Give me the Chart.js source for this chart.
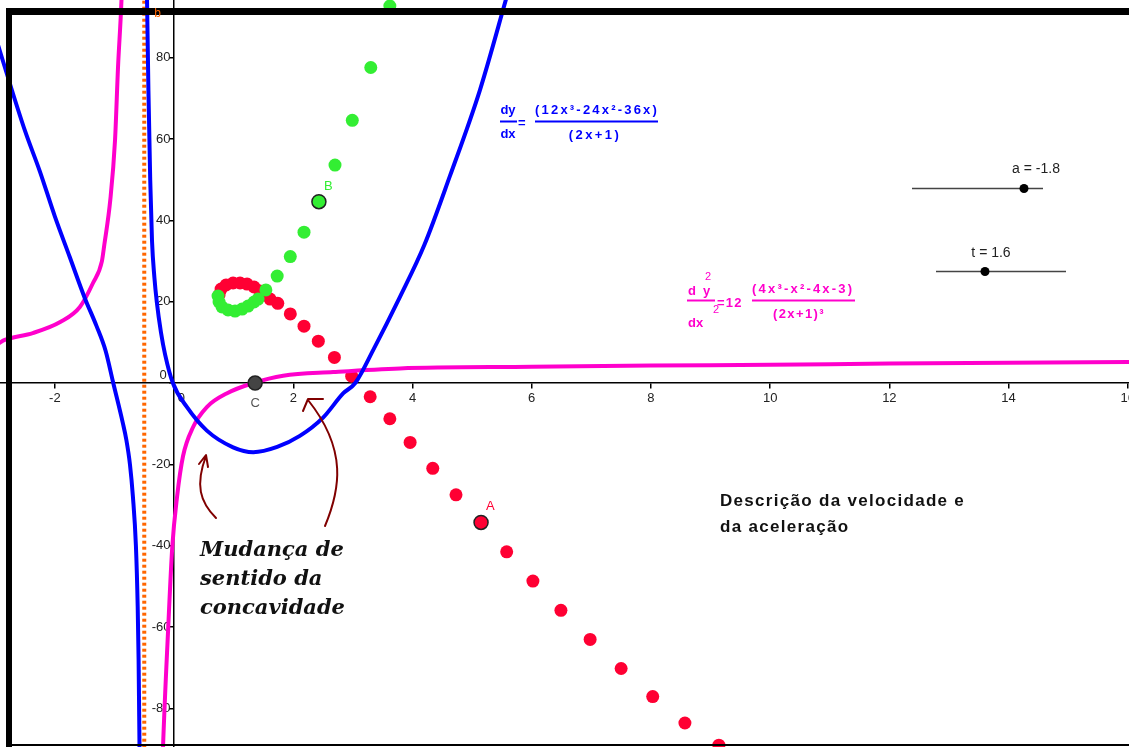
<!DOCTYPE html>
<html>
<head>
<meta charset="utf-8">
<script src="https://cdn.jsdelivr.net/npm/chart.js@4.4.1/dist/chart.umd.min.js"></script>
<style>
  html, body { margin: 0; padding: 0; background: #fff; }
  #wrap { position: absolute; left: 0; top: 0; width: 1129px; height: 747px; }
</style>
</head>
<body>
<div id="wrap"><canvas id="myChart"></canvas></div>
<script>
// view window of the graph
const xMin = -2.92, xMax = 16.02;
const yMin = -89.5, yMax = 94.2;
const xStep = 2, yStep = 20;

// dy/dx curve (blue), both branches of the asymptote
const blueLeftX = [-2.95, -2.72, -2.5, -2.25, -2.0, -1.75, -1.5, -1.3, -1.15, -1.02, -0.86, -0.8, -0.74, -0.69, -0.64, -0.61, -0.595, -0.585, -0.575];
const blueLeftY = [83, 72, 62, 52, 41, 31, 21, 14, 8, 0, -9.8, -14, -20, -28, -40, -55, -68, -82, -96];
const blueRightX = [-0.455, -0.43, -0.4, -0.37, -0.33, -0.29, -0.22, -0.15, -0.02, 0.22, 0.55, 0.99, 1.33, 1.73, 2.11, 2.5, 2.84, 3.04, 3.34, 3.79, 4.2, 4.63, 5.13, 5.6];
const blueRightY = [96, 72, 50, 35, 26, 20, 12.5, 7, 0, -6, -11.7, -15.8, -17, -15.7, -13, -8.5, -2.5, 0, 8.1, 21.2, 34, 51, 72, 96];

// d2y/dx2 curve (magenta)
const pinkLeftX = [-2.95, -2.84, -2.37, -1.91, -1.58, -1.36, -1.21, -1.17, -1.07, -0.99, -0.94, -0.88, -0.86];
const pinkLeftY = [9.7, 10.6, 12.3, 15.0, 18.7, 24.6, 30, 34, 45, 59.8, 77.7, 95, 105];
const pinkRightX = [-0.2, -0.185, -0.1, -0.03, 0.05, 0.15, 0.32, 0.55, 0.89, 1.33, 1.83, 2.67, 3.79, 6, 8, 10, 12, 14, 16.1];
const pinkRightY = [-97, -89.5, -60.8, -40.3, -28, -18, -10.8, -5.9, -2.5, 0, 1.8, 2.7, 3.6, 4.0, 4.3, 4.5, 4.8, 5.0, 5.2];

// vertical asymptote (orange dotted)
const asymX = [-0.5, -0.5];
const asymY = [-100, 100];

// trace of point A (red) and point B (green)
const redX = [0.755, 0.789, 0.872, 0.99, 1.107, 1.225, 1.342, 1.443, 1.527, 1.611, 1.74, 1.95, 2.18, 2.42, 2.69, 2.98, 3.29, 3.62, 3.96, 4.34, 4.73, 5.58, 6.02, 6.49, 6.98, 7.5, 8.03, 8.57, 9.14];
const redY = [21.65, 23.12, 24.11, 24.6, 24.6, 24.35, 23.62, 22.63, 21.65, 20.66, 19.6, 17.0, 14.0, 10.3, 6.3, 1.7, -3.37, -8.78, -14.59, -20.98, -27.48, -41.5, -48.7, -55.9, -63.05, -70.2, -77.1, -83.6, -89.05];
const greenX = [0.738, 0.755, 0.805, 0.906, 1.023, 1.141, 1.242, 1.342, 1.409, 1.54, 1.73, 1.95, 2.18, 2.7, 2.99, 3.3, 3.62];
const greenY = [21.4, 19.93, 18.7, 17.96, 17.71, 18.2, 18.94, 19.93, 20.66, 22.9, 26.3, 31.1, 37.1, 53.6, 64.6, 77.6, 92.7];

// named points
const pointA = [5.15, -34.27];
const pointB = [2.43, 44.6];
const pointC = [1.36, 0];

const BLUE = "#0000ff";
const PINK = "#ff00cc";
const RED = "#ff0033";
const GREEN = "#33ee33";
const ORANGE = "#ff6600";

function toPoints(xs, ys) {
  return xs.map((x, i) => ({ x: x, y: ys[i] }));
}

function curve(xs, ys, color, order) {
  return {
    data: toPoints(xs, ys),
    showLine: true,
    borderColor: color,
    borderWidth: 4,
    pointRadius: 0,
    cubicInterpolationMode: "monotone",
    order: order,
  };
}

function dots(xs, ys, color, order, radius, border) {
  return {
    data: toPoints(xs, ys),
    showLine: false,
    backgroundColor: color,
    borderColor: border || color,
    pointBorderWidth: border ? 1.5 : 0,
    pointRadius: radius,
    order: order,
  };
}

function txt(ctx, s, x, y, font, color, align, spacing) {
  ctx.font = font;
  ctx.fillStyle = color;
  ctx.textAlign = align || "left";
  ctx.textBaseline = "alphabetic";
  ctx.letterSpacing = spacing || "0px";
  ctx.fillText(s, x, y);
  ctx.letterSpacing = "0px";
}

function hline(ctx, x1, x2, y, color, w) {
  ctx.strokeStyle = color;
  ctx.lineWidth = w;
  ctx.beginPath();
  ctx.moveTo(x1, y);
  ctx.lineTo(x2, y);
  ctx.stroke();
}

const decorations = {
  id: "decorations",
  afterDatasetsDraw(chart) {
    const ctx = chart.ctx;
    const sx = chart.scales.x;
    const sy = chart.scales.y;
    ctx.save();

    // labels of the points
    const lab = "13px 'Liberation Sans', Arial, sans-serif";
    txt(ctx, "A", sx.getPixelForValue(pointA[0]) + 5, sy.getPixelForValue(pointA[1]) - 12, lab, RED);
    txt(ctx, "B", sx.getPixelForValue(pointB[0]) + 5, sy.getPixelForValue(pointB[1]) - 12, lab, GREEN);
    txt(ctx, "C", sx.getPixelForValue(pointC[0]), sy.getPixelForValue(pointC[1]) + 24, lab, "#555", "center");

    // dy/dx formula
    const fb = "bold 13px 'Liberation Sans', Arial, sans-serif";
    txt(ctx, "dy", 508, 114, fb, BLUE, "center");
    hline(ctx, 500, 517, 121.5, BLUE, 2);
    txt(ctx, "dx", 508, 138, fb, BLUE, "center");
    txt(ctx, "=", 518, 127, fb, BLUE);
    txt(ctx, "(12x\u00b3-24x\u00b2-36x)", 535, 114, fb, BLUE, "left", "2.2px");
    hline(ctx, 535, 658, 121.5, BLUE, 2);
    txt(ctx, "(2x+1)", 595, 139, fb, BLUE, "center", "2.4px");

    // d2y/dx2 formula
    const fp = "bold 13px 'Liberation Sans', Arial, sans-serif";
    const fs = "11px 'Liberation Sans', Arial, sans-serif";
    txt(ctx, "d", 688, 295, fp, PINK);
    txt(ctx, "2", 705, 280, fs, PINK);
    txt(ctx, "y", 703, 295, fp, PINK);
    hline(ctx, 687, 715, 300.5, PINK, 2);
    txt(ctx, "dx", 688, 327, fp, PINK);
    txt(ctx, "2", 713, 313, fs, PINK);
    txt(ctx, "=12", 717, 307, fp, PINK, "left", "1.2px");
    txt(ctx, "(4x\u00b3-x\u00b2-4x-3)", 752, 293, fp, PINK, "left", "2.2px");
    hline(ctx, 752, 855, 300.5, PINK, 2);
    txt(ctx, "(2x+1)\u00b3", 773, 318, fp, PINK, "left", "1.4px");

    // sliders
    const sf = "14px 'Liberation Sans', Arial, sans-serif";
    txt(ctx, "a = -1.8", 1036, 173, sf, "#222", "center");
    hline(ctx, 912, 1043, 188.5, "#444", 1.5);
    txt(ctx, "t = 1.6", 991, 257, sf, "#222", "center");
    hline(ctx, 936, 1066, 271.5, "#444", 1.5);
    ctx.fillStyle = "#000";
    ctx.beginPath();
    ctx.arc(1024, 188.5, 4.5, 0, Math.PI * 2);
    ctx.fill();
    ctx.beginPath();
    ctx.arc(985, 271.5, 4.5, 0, Math.PI * 2);
    ctx.fill();

    // description text
    const df = "bold 17px 'Liberation Sans', Arial, sans-serif";
    txt(ctx, "Descrição da velocidade e", 720, 506, df, "#111", "left", "1.3px");
    txt(ctx, "da aceleração", 720, 532, df, "#111", "left", "1.3px");

    // handwritten note
    const nf = "italic bold 21px 'DejaVu Serif', serif";
    txt(ctx, "Mudança de", 200, 556, nf, "#111");
    txt(ctx, "sentido da", 200, 585, nf, "#111");
    txt(ctx, "concavidade", 200, 614, nf, "#111");

    // arrows
    ctx.strokeStyle = "#800000";
    ctx.lineWidth = 2;
    ctx.lineCap = "round";
    ctx.lineJoin = "round";
    ctx.beginPath();
    ctx.moveTo(216, 518);
    ctx.bezierCurveTo(200, 502, 195, 485, 206, 456);
    ctx.moveTo(199, 464);
    ctx.lineTo(206, 455);
    ctx.lineTo(208, 467);
    ctx.stroke();
    ctx.beginPath();
    ctx.moveTo(325, 526);
    ctx.bezierCurveTo(340, 490, 348, 450, 308, 400);
    ctx.moveTo(323, 399);
    ctx.lineTo(308, 399);
    ctx.lineTo(303, 411);
    ctx.stroke();

    ctx.restore();
  },
  afterDraw(chart) {
    const ctx = chart.ctx;
    ctx.save();
    // frame around the view
    ctx.fillStyle = "#000";
    ctx.fillRect(6, 8, 1123, 7);
    ctx.fillRect(6, 8, 6, 739);
    ctx.fillRect(6, 744, 1123, 2);
    txt(ctx, "b", chart.scales.x.getPixelForValue(asymX[0]) + 10, 17, "12px 'Liberation Sans', Arial, sans-serif", ORANGE);
    ctx.restore();
  },
};

function zeroPadding(scale) {
  scale.paddingLeft = 0;
  scale.paddingRight = 0;
  scale.paddingTop = 0;
  scale.paddingBottom = 0;
}

function createChart() {
  const datasets = [
    dots(redX, redY, RED, 9, 6.5),
    dots(greenX, greenY, GREEN, 8, 6.5),
    Object.assign(curve(asymX, asymY, ORANGE, 7), { borderDash: [3, 3], cubicInterpolationMode: "default" }),
    curve(pinkLeftX, pinkLeftY, PINK, 6),
    curve(pinkRightX, pinkRightY, PINK, 5),
    curve(blueLeftX, blueLeftY, BLUE, 4),
    curve(blueRightX, blueRightY, BLUE, 3),
    dots([pointA[0]], [pointA[1]], RED, 2, 7, "#222"),
    dots([pointB[0]], [pointB[1]], GREEN, 1, 7, "#222"),
    dots([pointC[0]], [pointC[1]], "#444", 0, 7, "#222"),
  ];

  const tickFont = { family: "'Liberation Sans', Arial, sans-serif", size: 13 };

  const config = {
    type: "scatter",
    data: { datasets },
    options: {
      responsive: true,
      maintainAspectRatio: false,
      animation: false,
      events: [],
      layout: { padding: 0, autoPadding: false },
      plugins: { legend: { display: false }, tooltip: { enabled: false } },
      scales: {
        x: {
          type: "linear",
          min: xMin,
          max: xMax,
          position: { y: 0 },
          afterFit: zeroPadding,
          ticks: {
            stepSize: xStep,
            includeBounds: false,
            font: tickFont,
            color: "#222",
            padding: 3,
            maxRotation: 0,
            // GeoGebra puts the origin label just right of the y axis
            callback: (v) => (v === 0 ? "    0" : String(v)),
          },
          grid: { drawOnChartArea: false, drawTicks: true, tickLength: 5, color: "#000", lineWidth: 1.5 },
          border: { color: "#000", width: 1.5 },
        },
        y: {
          type: "linear",
          min: yMin,
          max: yMax,
          position: { x: 0 },
          afterFit: zeroPadding,
          ticks: {
            stepSize: yStep,
            includeBounds: false,
            font: tickFont,
            color: "#222",
            callback: (v) => (v === 0 ? ["0  ", ""] : v + " "),
          },
          grid: { drawOnChartArea: false, drawTicks: true, tickLength: 4, color: "#000", lineWidth: 1.5 },
          border: { color: "#000", width: 1.5 },
        },
      },
    },
    plugins: [decorations],
  };
  new Chart(document.getElementById("myChart"), config);
}

document.addEventListener("DOMContentLoaded", () => {
  createChart();
});
</script>
</body>
</html>
